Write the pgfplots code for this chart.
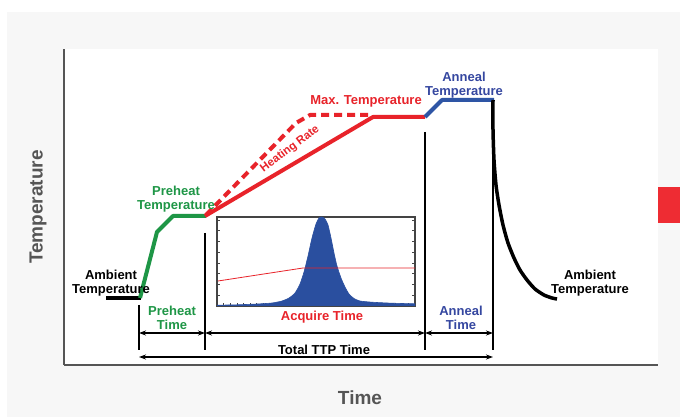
\documentclass[border=0pt]{standalone}
\usepackage{fontspec}
\setmainfont{Liberation Sans}
\usepackage{pgfplots}
\pgfplotsset{compat=1.18}
\usetikzlibrary{arrows.meta}

\definecolor{panelgray}{HTML}{F7F7F7}
\definecolor{axisgray}{HTML}{555555}
\definecolor{labelgray}{HTML}{555555}
\definecolor{pgreen}{HTML}{1E9646}
\definecolor{pred}{HTML}{E8232A}
\definecolor{pblue}{HTML}{2E55A5}
\definecolor{tblue}{HTML}{3547A0}
\definecolor{fillblue}{HTML}{2A4F9F}
\definecolor{framegray}{HTML}{444444}
\definecolor{sqred}{HTML}{EE2C33}

\tikzset{
  ann/.style={font=\bfseries\fontsize{13}{14}\selectfont, align=center},
  dim/.style={black, line width=1.1pt},
  arr/.style={black, line width=1.1pt,
    {Stealth[length=7pt,width=5pt]}-{Stealth[length=7pt,width=5pt]}},
}

\begin{document}
\begin{tikzpicture}
% page background, grey panel, plot area, red tab at the right
\fill[white] (0,0) rectangle (680pt,417pt);
\fill[panelgray] (7pt,0) rectangle (680pt,405pt);
\fill[white] (64pt,52pt) rectangle (658pt,368pt);
\fill[sqred] (658pt,194pt) rectangle (680pt,230pt);

\begin{axis}[
  at={(64pt,52pt)}, anchor=south west,
  scale only axis, width=594pt, height=316pt,
  xmin=64, xmax=658, ymin=52, ymax=368,
  axis lines=left,
  axis line style={-, draw=axisgray, line width=2pt},
  xtick=\empty, ytick=\empty,
  clip=false,
  xlabel={Time}, ylabel={Temperature},
  label style={font=\bfseries\fontsize{19}{21}\selectfont, text=labelgray},
  xlabel style={at={(axis description cs:0.4983,-0.1044)}, anchor=center},
  ylabel style={at={(axis description cs:-0.0438,0.5)}, anchor=center},
]
% ambient -> preheat
\addplot[black, line width=4pt] coordinates {(106,119) (141,119)};
\addplot[pgreen, line width=4pt, line join=round]
  coordinates {(140,119) (157,185) (173,201) (206,201)};
% heating, fast (dashed) and slow (solid)
\addplot[pred, line width=4pt, dash pattern=on 8pt off 5pt, line join=round]
  coordinates {(206,202) (296,294) (310,302) (373,302)};
\addplot[pred, line width=4pt, line join=round]
  coordinates {(205,201) (373,300) (425,300)};
% anneal
\addplot[pblue, line width=4pt, line join=round]
  coordinates {(425,300) (442,317) (494,317)};
% cool down
\addplot[black, line width=3.5pt, smooth, tension=0.4]
  coordinates {(493,317) (493,287) (494,257) (496,232) (499,212) (503,192)
               (508,174) (514,159) (520,147) (527,137) (535,128)
               (544,122) (552,119) (557,118)};

% dimension lines
\draw[dim] (139,112) -- (139,67);
\draw[dim] (205,184) -- (205,67);
\draw[dim] (425,285) -- (425,67);
\draw[dim] (493,260) -- (493,67);
\draw[arr] (139,84) -- (205,84);
\draw[arr] (205,84) -- (425,84);
\draw[arr] (425,84) -- (493,84);
\draw[arr] (139,60) -- (493,60);

% annotations
\node[ann, text=black] at (111,134) {Ambient\\Temperature};
\node[ann, text=pgreen] at (176,218) {Preheat\\Temperature};
\node[ann, text=pred] at (366,316) {Max. Temperature};
\node[ann, text=tblue] at (464,332) {Anneal\\Temperature};
\node[ann, text=black] at (590,134) {Ambient\\Temperature};
\node[ann, text=pgreen] at (172,99) {Preheat\\Time};
\node[ann, text=pred] at (322,100) {Acquire Time};
\node[ann, text=tblue] at (461,99) {Anneal\\Time};
\node[ann, text=black] at (324,67) {Total TTP Time};
\node[ann, text=pred, font=\bfseries\fontsize{11.5}{13}\selectfont, rotate=37]
  at (290,268) {Heating Rate};
\end{axis}

% inset: acquired signal
\begin{axis}[
  at={(217pt,111pt)}, anchor=south west,
  scale only axis, width=198pt, height=89pt,
  xmin=0, xmax=198, ymin=0, ymax=89,
  axis background/.style={fill=white},
  axis line style={draw=framegray, line width=1.3pt},
  xtick={0,6.6,...,198},
  ytick={10.75,21.5,32.25,43,53.75,64.5,75.25,86},
  xticklabels={}, yticklabels={},
  xtick pos=left, ytick pos=both,
  tick align=inside, major tick length=3pt,
  tick style={framegray, line width=0.6pt},
]
\addplot[fillblue, fill=fillblue, line width=0.6pt, smooth, tension=0.4]
  coordinates {
    (0,0.8) (20,1.2) (40,2) (55,3) (65,5) (72,8) (78,13) (83,22)
    (87,34) (91,50) (95,68) (99,82) (102,88) (105,89) (108,87)
    (111,81) (114,68) (117,53) (120,40) (124,28) (128,19) (132,12)
    (137,7.5) (143,5) (155,3.8) (170,3) (185,2.5) (198,2.2)
  } \closedcycle;
\addplot[pred, line width=0.8pt] coordinates {(1,25) (86,38) (198,38)};
\end{axis}
\end{tikzpicture}
\end{document}
